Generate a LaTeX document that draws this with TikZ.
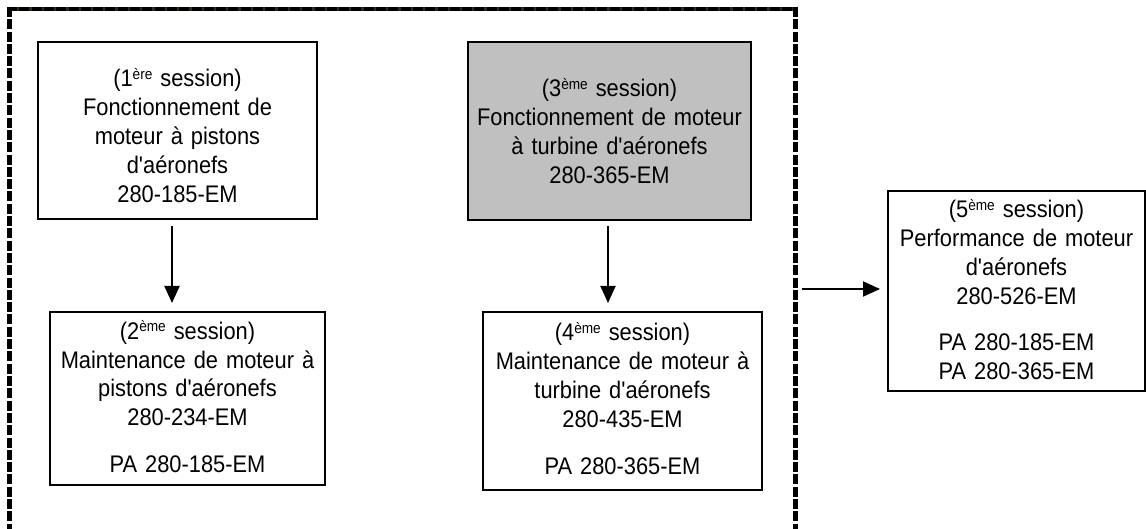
\documentclass[tikz,border=0pt]{standalone}
\usepackage{fontspec}
\setmainfont{Liberation Sans}[Ligatures=TeXOff, FakeStretch=0.91]
\usetikzlibrary{arrows.meta}
\definecolor{boxgrey}{RGB}{192,192,192}
\definecolor{topline}{RGB}{45,45,30}
\newcommand{\sesup}[1]{\raisebox{7pt}{\fontsize{15}{15}\selectfont #1}}
\begin{document}
\begin{tikzpicture}[x=1pt,y=-1pt,
  box/.style={draw=black, line width=2pt, inner sep=0pt},
  txt/.style={align=center, text width=300pt, anchor=base, inner sep=0pt, font=\fontsize{24}{29}\selectfont},
  arr/.style={line width=2pt, -{Triangle[length=17pt,width=15pt]}},
  frameside/.style={line width=5pt, dash pattern=on 10pt off 2.3pt}]
\useasboundingbox (0,0) rectangle (1146,529);
% dashed frame (open at the bottom)
\draw[topline, line width=4pt] (7,9.5) -- (798,9.5);
\draw[black, line width=4pt, dash pattern=on 10pt off 2.3pt] (7,9.5) -- (798,9.5);
\draw[frameside] (9.5,7) -- (9.5,535);
\draw[frameside] (795.5,7) -- (795.5,535);
% boxes
\node[box, minimum width=279pt, minimum height=177pt] (b1) at (177.5,130.5) {};
\node[txt] (b1t) at (177.5,87) {(1\sesup{ère} session)\\Fonctionnement de\\moteur à pistons\\d'aéronefs\\280-185-EM};
\node[box, fill=boxgrey, minimum width=283pt, minimum height=178pt] (b3) at (609.5,131) {};
\node[txt] (b3t) at (609.5,97) {(3\sesup{ème} session)\\Fonctionnement de moteur\\à turbine d'aéronefs\\280-365-EM};
\node[box, minimum width=275pt, minimum height=173pt] (b2) at (187.5,398.5) {};
\node[txt] (b2t) at (187.5,339) {(2\sesup{ème} session)\\Maintenance de moteur à\\pistons d'aéronefs\\280-234-EM\\[18pt]PA 280-185-EM};
\node[box, minimum width=279pt, minimum height=178pt] (b4) at (622.5,401) {};
\node[txt] (b4t) at (622.5,341) {(4\sesup{ème} session)\\Maintenance de moteur à\\turbine d'aéronefs\\280-435-EM\\[18pt]PA 280-365-EM};
\node[box, minimum width=257pt, minimum height=200pt] (b5) at (1016.5,291) {};
\node[txt] (b5t) at (1016.5,218) {(5\sesup{ème} session)\\Performance de moteur\\d'aéronefs\\280-526-EM\\[17pt]PA 280-185-EM\\PA 280-365-EM};
% connectors
\draw[arr, shorten <=6pt, shorten >=8pt] ([xshift=-5.5pt]b1.south) -- ([xshift=-5.5pt]b1.south |- b2.north);
\draw[arr, shorten <=5pt, shorten >=8pt] ([xshift=-1.5pt]b3.south) -- ([xshift=-1.5pt]b3.south |- b4.north);
\coordinate (fr) at (795.5,289);
\draw[arr, shorten <=6.5pt, shorten >=7pt] (fr) -- (fr -| b5.west);
\end{tikzpicture}
\end{document}
